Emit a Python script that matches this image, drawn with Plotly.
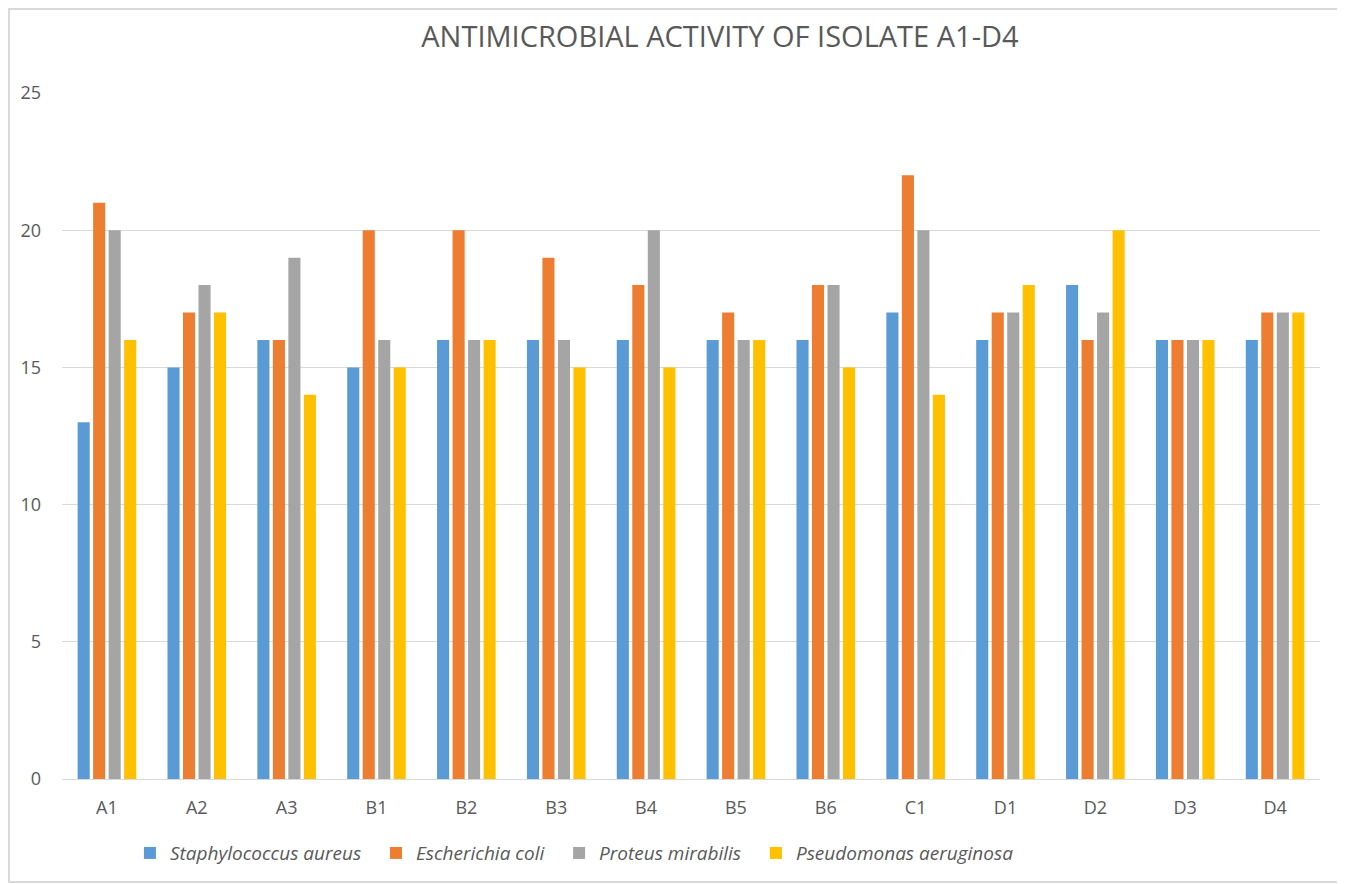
import plotly.graph_objects as go

categories = ["A1", "A2", "A3", "B1", "B2", "B3", "B4", "B5", "B6", "C1", "D1", "D2", "D3", "D4"]
staph = [13, 15, 16, 15, 16, 16, 16, 16, 16, 17, 16, 18, 16, 16]
ecoli = [21, 17, 16, 20, 20, 19, 18, 17, 18, 22, 17, 16, 16, 17]
proteus = [20, 18, 19, 16, 16, 16, 20, 16, 18, 20, 17, 17, 16, 17]
pseudo = [16, 17, 14, 15, 16, 15, 15, 16, 15, 14, 18, 20, 16, 17]

series = [
    ("Staphylococcus aureus", staph, "#5B9BD5"),
    ("Escherichia coli", ecoli, "#ED7D31"),
    ("Proteus mirabilis", proteus, "#A5A5A5"),
    ("Pseudomonas aeruginosa", pseudo, "#FFC000"),
]

fig = go.Figure()
for name, vals, color in series:
    fig.add_trace(go.Bar(x=categories, y=vals, name="<i>" + name + "</i>&nbsp;&nbsp;", marker_color=color,
                         marker_line_width=0))

font_family = "Open Sans, Liberation Sans, sans-serif"
fig.update_layout(
    width=1337, height=876,
    margin=dict(l=54, r=25, t=85, b=105),
    paper_bgcolor="white", plot_bgcolor="white",
    barmode="group", bargap=0.31, bargroupgap=0.22,
    font=dict(family=font_family, color="#595959", size=17),
    title=dict(text="ANTIMICROBIAL ACTIVITY OF ISOLATE A1-D4", x=0.5325, xanchor="center",
               y=0.967, yanchor="middle", font=dict(size=29, color="#595959")),
    xaxis=dict(showgrid=False, showline=True, linecolor="#D9D9D9", linewidth=1,
               ticks="", ticklabelstandoff=12, tickfont=dict(size=18, color="#595959")),
    yaxis=dict(range=[0, 25], dtick=5, showgrid=True, gridcolor="#D9D9D9", gridwidth=1,
               zeroline=False, showline=False, ticks="", ticklabelstandoff=20,
               tickfont=dict(size=18, color="#595959")),
    legend=dict(orientation="h", x=0.054, xanchor="left", y=-0.108, yanchor="middle",
                font=dict(size=19, color="#595959"), itemwidth=30, traceorder="normal"),
    showlegend=True,
)
fig.add_shape(type="rect", xref="paper", yref="paper",
              x0=-0.0421, x1=1.0167, y0=-0.150, y1=1.1224,
              line=dict(color="#D9D9D9", width=2), fillcolor="rgba(0,0,0,0)", layer="below")

fig.write_html("out.html")
